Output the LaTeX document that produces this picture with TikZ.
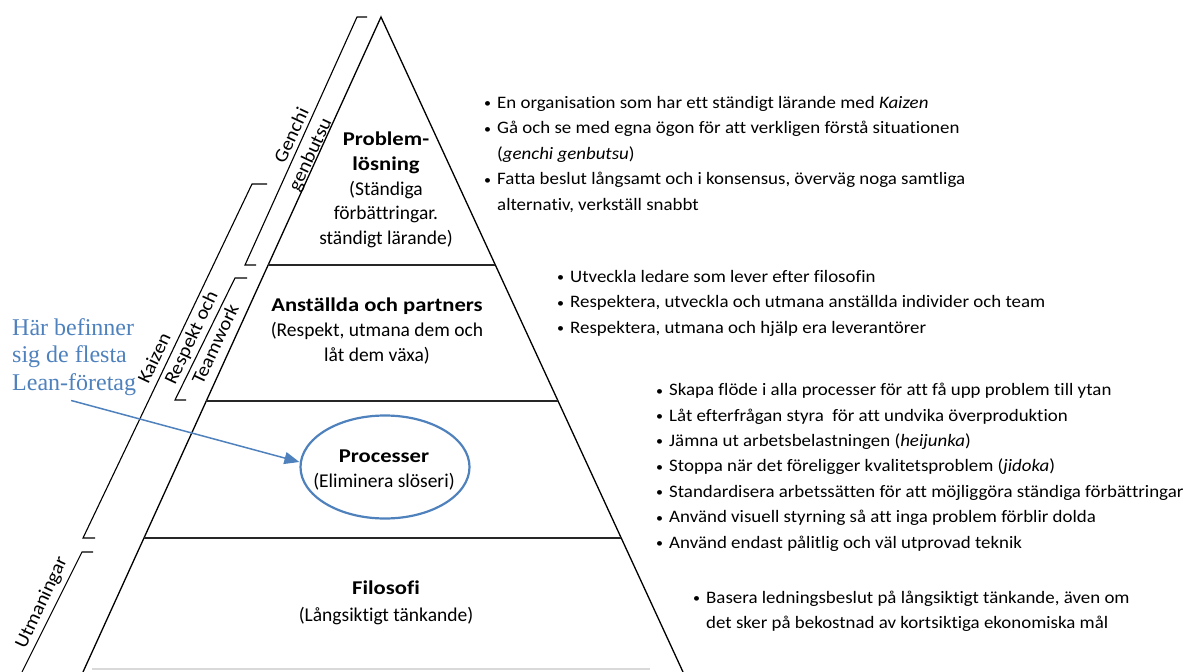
\documentclass[tikz,border=0pt]{standalone}
\usepackage{fontspec}
\setmainfont{Carlito}[Ligatures=NoCommon, BoldFeatures={FakeStretch=1.16}]
\newfontfamily\listfont{Carlito}[Ligatures=NoCommon, FakeStretch=1.08]
\newfontfamily\notefont{Liberation Serif}
\usetikzlibrary{arrows.meta,shapes.geometric,calc}
\definecolor{leanblue}{HTML}{4F81BD}
\newcommand\bitem{\makebox[13pt][l]{\raisebox{0.6pt}{\fontsize{13}{13}\selectfont •}}}
\newcommand\bcont{\hspace*{13pt}}
\begin{document}
\begin{tikzpicture}[x=1pt,y=-1pt,
  edge/.style={line width=1.3pt, black},
  tier/.style={line width=1.4pt, black!85},
  bracket/.style={line width=1.1pt, line join=miter},
  lbl/.style={font=\listfont\fontsize{19}{21}\selectfont, rotate=64.8, inner sep=0pt},
  lvl/.style={font=\fontsize{19.5}{24.8}\selectfont, align=center, inner sep=0pt},
  bullets/.style={font=\listfont\fontsize{17.5}{25.4}\selectfont, align=left, inner sep=0pt, anchor=base west},
]
\useasboundingbox (0,0) rectangle (1187,672);

% pyramid outline
\coordinate (apex) at (381,17);
\coordinate (bl) at (83,672);
\coordinate (br) at (683,672);
\draw[edge] (bl) -- (apex) -- (br);

% level separators
\coordinate (t1l) at ($(apex)!0.3786!(bl)$);
\coordinate (t1r) at ($(apex)!0.3786!(br)$);
\coordinate (t2l) at ($(apex)!0.5863!(bl)$);
\coordinate (t2r) at ($(apex)!0.5863!(br)$);
\coordinate (t3l) at ($(apex)!0.7954!(bl)$);
\coordinate (t3r) at ($(apex)!0.7954!(br)$);
\draw[tier] (t1l) -- (t1r);
\draw[tier] (t2l) -- (t2r);
\draw[tier] (t3l) -- (t3r);

% faint base
\draw[gray!30, line width=1.5pt] (92,669) -- (650,669);

% side brackets
\draw[bracket] (367,17) -- (357,17) -- (245,265) -- (256,265);
\draw[bracket] (267,184) -- (252,184) -- (83,538) -- (95,538);
\draw[bracket] (247,278) -- (235,278) -- (175,400) -- (186,400);
\draw[bracket] (93,552) -- (82,552) -- (22,672);

% bracket labels
\node[lbl] (genchi) at (291,135) {Genchi};
\node[lbl] (genbutsu) at (311,155) {genbutsu};
\node[lbl] (kaizen) at (154,358) {Kaizen};
\node[lbl] (respekt) at (192,338) {Respekt och};
\node[lbl] (teamwork) at (215,344) {Teamwork};
\node[lbl] (utman) at (42,603) {Utmaningar};

% level texts
\node[lvl] (lvl4) at (386,190) {\textbf{Problem-}\\\textbf{lösning}\\(Ständiga\\förbättringar.\\ständigt lärande)};
\node[lvl] (lvl3) at (377,331) {\textbf{Anställda och partners}\\(Respekt, utmana dem och\\låt dem växa)};
\node[ellipse, draw=leanblue, line width=2.2pt, minimum width=169pt, minimum height=103pt, inner sep=0pt] (proc) at (385,467) {};
\node[lvl] (lvl2) at (384,470) {\textbf{Processer}\\(Eliminera slöseri)};
\node[lvl, font=\fontsize{19.5}{27}\selectfont] (lvl1) at (386,603) {\textbf{Filosofi}\\(Långsiktigt tänkande)};

% principles
\node[bullets] (list4) at (484,210) {\bitem En organisation som har ett ständigt lärande med \textit{Kaizen}\\
\bitem Gå och se med egna ögon för att verkligen förstå situationen\\
\bcont(\textit{genchi genbutsu})\\
\bitem Fatta beslut långsamt och i konsensus, överväg noga samtliga\\
\bcont alternativ, verkställ snabbt};
\node[bullets] (list3) at (557,333) {\bitem Utveckla ledare som lever efter filosofin\\
\bitem Respektera, utveckla och utmana anställda individer och team\\
\bitem Respektera, utmana och hjälp era leverantörer};
\node[bullets] (list2) at (656,548) {\bitem Skapa flöde i alla processer för att få upp problem till ytan\\
\bitem Låt efterfrågan styra\ \ för att undvika överproduktion\\
\bitem Jämna ut arbetsbelastningen (\textit{heijunka})\\
\bitem Stoppa när det föreligger kvalitetsproblem (\textit{jidoka})\\
\bitem Standardisera arbetssätten för att möjliggöra ständiga förbättringar\\
\bitem Använd visuell styrning så att inga problem förblir dolda\\
\bitem Använd endast pålitlig och väl utprovad teknik};
\node[bullets, font=\listfont\fontsize{17.5}{24.5}\selectfont] (list1) at (693,628) {\bitem Basera ledningsbeslut på långsiktigt tänkande, även om\\
\bcont det sker på bekostnad av kortsiktiga ekonomiska mål};

% annotation
\node[font=\notefont\fontsize{24}{27.5}\selectfont, text=leanblue, align=left, anchor=north west, inner sep=0pt] (lean) at (12,318) {Här befinner\\sig de flesta\\Lean-företag};
\draw[leanblue, line width=1.5pt, -{Triangle[length=15pt,width=12pt]}] ([shift={(-3pt,-5pt)}]lean.south) -- ([yshift=5pt]proc.west);
\end{tikzpicture}
\end{document}
